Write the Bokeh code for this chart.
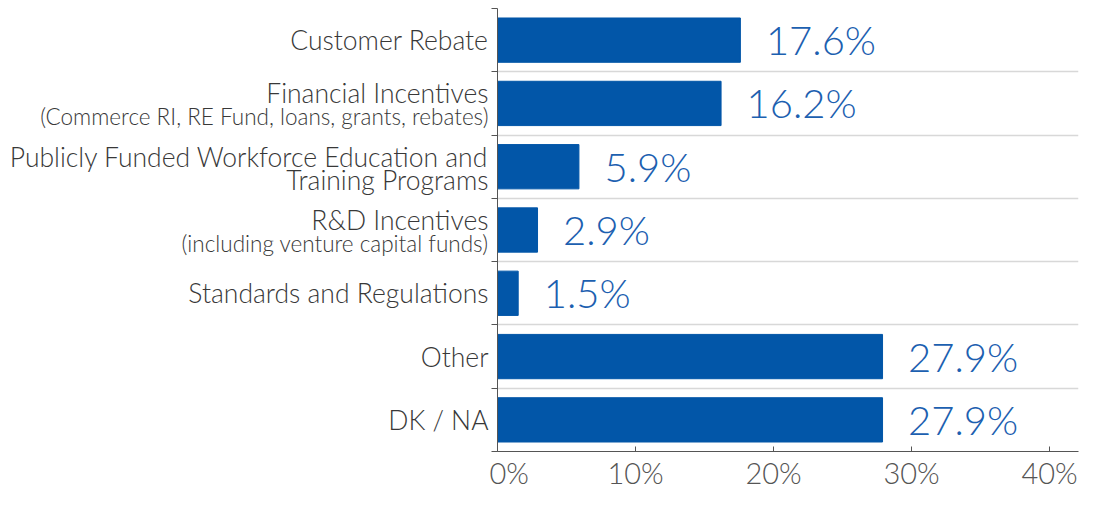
from bokeh.plotting import figure
from bokeh.models import Range1d, FixedTicker, ColumnDataSource
from bokeh.layouts import row
from bokeh.core.properties import value
from bokeh.embed import file_html
from bokeh.resources import INLINE

categories = ["Customer Rebate", "Financial Incentives", "Publicly Funded Workforce Education and",
              "R&D Incentives", "Standards and Regulations", "Other", "DK / NA"]
second_lines = ["", "(Commerce RI, RE Fund, loans, grants, rebates)", "Training Programs",
                "(including venture capital funds)", "", "", ""]
values = [17.6, 16.2, 5.9, 2.9, 1.5, 27.9, 27.9]
value_labels = ["17.6%", "16.2%", "5.9%", "2.9%", "1.5%", "27.9%", "27.9%"]
x_ticks = [0, 10, 20, 30, 40]
x_tick_labels = ["0%", "10%", "20%", "30%", "40%"]

BAR = "#0256A8"
LBL = "#1c60b0"
FONT = "Lato Light"
TXT = "#383838"

W, H = 1080, 492
TOP, BOTTOM = 8, 36
LEFT_W = 489

n = len(categories)
centers = [i + 0.5 for i in range(n)]
yr = Range1d(n, 0)

# ---- label panel (left) ----
lp = figure(width=LEFT_W, height=H, output_backend="svg", toolbar_location=None,
            x_range=Range1d(0, LEFT_W), y_range=yr,
            min_border_left=0, min_border_right=0, min_border_top=TOP, min_border_bottom=BOTTOM)
lp.axis.visible = False
lp.grid.grid_line_color = None
lp.outline_line_color = None

main_y, sec_y, big_sub, small_sub = [], [], [], []
for i, s in enumerate(second_lines):
    if s:
        main_y.append(centers[i] - 0.16)
        sec_y.append(centers[i] + 0.21)
    else:
        main_y.append(centers[i])
        sec_y.append(centers[i])
    big_sub.append(s if s == "Training Programs" else "")
    small_sub.append(s if (s and s != "Training Programs") else "")

lsrc = ColumnDataSource(dict(x=[LEFT_W - 1] * n, my=main_y, sy=sec_y, main=categories,
                             big=big_sub, small=small_sub))
lp.text(x="x", y="my", text="main", source=lsrc, text_align="right", text_baseline="middle",
        text_font=value(FONT), text_font_size="26.5px", text_color=TXT)
lp.text(x="x", y="sy", text="big", source=lsrc, text_align="right", text_baseline="middle",
        text_font=value(FONT), text_font_size="26.5px", text_color=TXT)
lp.text(x="x", y="sy", text="small", source=lsrc, text_align="right", text_baseline="middle",
        text_font=value(FONT), text_font_size="22.5px", text_color=TXT)

# ---- bar panel (right) ----
p = figure(width=W - LEFT_W, height=H, output_backend="svg", toolbar_location=None,
           x_range=Range1d(0, 42.1), y_range=yr,
           min_border_left=8, min_border_right=2, min_border_top=TOP, min_border_bottom=BOTTOM)
p.outline_line_color = None

src = ColumnDataSource(dict(y=centers, v=values, lab=value_labels, lx=[v + 1.85 for v in values]))
p.hbar(y="y", right="v", left=0, height=0.7, source=src, fill_color=BAR, line_color=BAR)
p.text(x="lx", y="y", text="lab", source=src, text_color=LBL, text_font=value(FONT),
       text_font_size="40px", text_align="left", text_baseline="middle")

p.xaxis.ticker = FixedTicker(ticks=x_ticks)
p.xaxis.major_label_overrides = {t: l for t, l in zip(x_ticks, x_tick_labels)}
p.xaxis.major_label_text_font = FONT
p.xaxis.major_label_text_font_size = "29px"
p.xaxis.major_label_text_color = "#555555"
p.xaxis.major_tick_in = 5
p.xaxis.major_tick_out = 0
p.xaxis.minor_tick_line_color = None
p.xaxis.axis_line_color = "#555555"
p.xaxis.major_tick_line_color = "#555555"
p.xaxis.major_label_standoff = 3
p.xgrid.grid_line_color = None

p.yaxis.ticker = FixedTicker(ticks=list(range(n + 1)))
p.yaxis.major_label_overrides = {i: "" for i in range(n + 1)}
p.yaxis.major_label_text_font_size = "1px"
p.yaxis.major_label_standoff = 0
p.yaxis.major_tick_in = 0
p.yaxis.major_tick_out = 6
p.yaxis.minor_tick_line_color = None
p.yaxis.axis_line_color = "#555555"
p.yaxis.major_tick_line_color = "#555555"
p.ygrid.ticker = FixedTicker(ticks=list(range(n)))
p.ygrid.grid_line_color = "#d8d8d8"
p.ygrid.grid_line_width = 1.5

layout = row(lp, p)
open("out.html", "w").write(file_html(layout, INLINE))
